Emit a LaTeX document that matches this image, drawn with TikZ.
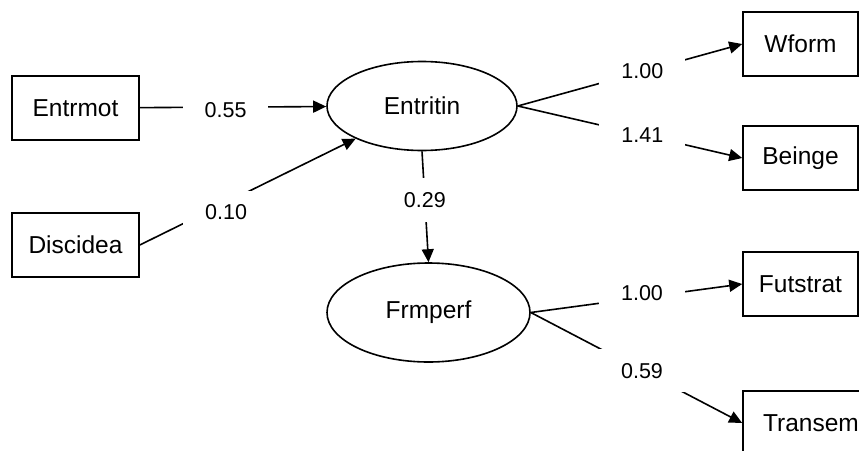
\documentclass[tikz,border=0pt]{standalone}
\usepackage{fontspec}
\setmainfont{Liberation Sans}
\usepackage{tikz}
\usetikzlibrary{arrows.meta,shapes.geometric}
\tikzset{
  obsbox/.style={draw=black,line width=1.6pt,fill=white,minimum width=127pt,minimum height=64pt,inner sep=0pt,font=\fontsize{24.5}{28}\selectfont},
  indbox/.style={obsbox,minimum width=115pt},
  latent/.style={ellipse,draw=black,line width=1.6pt,fill=white,inner sep=0pt,font=\fontsize{24.5}{28}\selectfont},
  pathflow/.style={-{Triangle[length=13pt,width=12pt]},draw=black,line width=1.6pt},
  coef/.style={fill=white,inner xsep=22pt,inner ysep=14pt,font=\fontsize{21.5}{25}\selectfont}
}

\begin{document}
\begin{tikzpicture}[x=1pt,y=-1pt]
  \useasboundingbox (0,0) rectangle (859,450);
  % exogenous indicators
  \node[obsbox] (entrmot) at (75.5,108) {Entrmot};
  \node[obsbox] (discidea) at (75.5,245) {Discidea};
  % latent variables
  \node[latent,minimum width=190pt,minimum height=89pt] (entritin) at (422,106) {Entritin};
  \node[latent,minimum width=203pt,minimum height=99pt] (frmperf) at (428.5,312.5) {Frmperf};
  % endogenous indicators
  \node[indbox] (wform) at (800.5,44) {Wform};
  \node[indbox] (beinge) at (800.5,158) {Beinge};
  \node[indbox] (futstrat) at (800.5,284) {Futstrat};
  \node[indbox,minimum width=136pt] (transem) at (811,423) {Transem};
  % paths
  \draw[pathflow] (entrmot) -- node[coef,pos=0.46,yshift=-3pt] {0.55} (entritin);
  \draw[pathflow] (discidea.east) -- node[coef,pos=0.40,yshift=-10pt] {0.10} (entritin);
  \draw[pathflow] (entritin.south) -- node[coef,pos=0.44] {0.29} (frmperf.north);
  \draw[pathflow] (entritin.east) -- node[coef,pos=0.555] {1.00} (wform.west);
  \draw[pathflow] (entritin.east) -- node[coef,pos=0.555] {1.41} (beinge.west);
  \draw[pathflow] (frmperf.east) -- node[coef,pos=0.526,yshift=4pt] {1.00} (futstrat.west);
  \draw[pathflow] (frmperf.east) -- node[coef,pos=0.526] {0.59} (transem.west);
\end{tikzpicture}
\end{document}
